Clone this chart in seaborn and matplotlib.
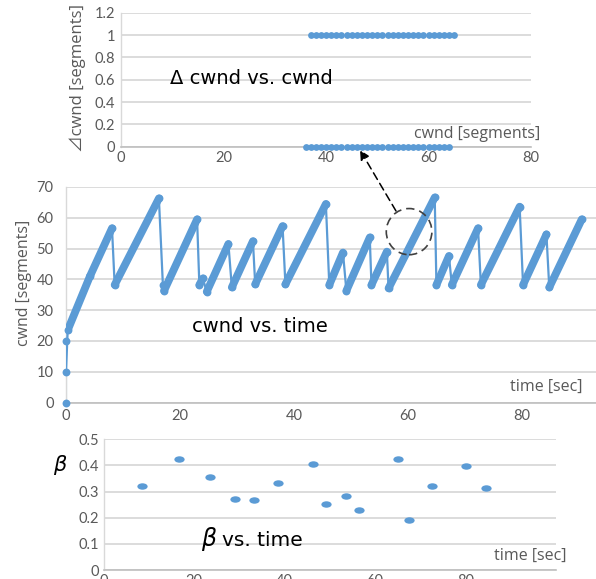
import numpy as np
import pandas as pd
import matplotlib
matplotlib.use("Agg")
import matplotlib.pyplot as plt
import seaborn as sns
from matplotlib.patches import Ellipse, FancyArrowPatch
from matplotlib.path import Path

# --- data -----------------------------------------------------------------
# window sizes (segments) at which an ACK grew cwnd by one segment / left it unchanged
cwnd_inc = [37, 38, 39, 40, 41, 42, 43, 44, 45, 46, 47, 48, 49, 50, 51,
            52, 53, 54, 55, 56, 57, 58, 59, 60, 61, 62, 63, 64, 65]
cwnd_hold = [36, 37, 38, 39, 40, 41, 42, 43, 44, 45, 46, 47, 48, 49, 50,
             51, 52, 53, 54, 55, 56, 57, 58, 59, 60, 61, 62, 63, 64]

# cwnd trajectory: turning points of the sawtooth
t_vertices = [0.0, 0.0, 0.0, 0.3, 4.2, 8.07, 8.54, 16.3, 17.0, 17.2, 23.0,
              23.4, 24.0, 24.7, 28.5, 29.1, 32.8, 33.2, 38.0, 38.5, 45.6,
              46.2, 48.6, 49.2, 53.3, 53.6, 56.3, 56.6, 64.7, 65.0, 67.2,
              67.7, 72.3, 72.8, 79.6, 80.2, 84.3, 84.8, 90.5]
cwnd_vertices = [0, 10, 20, 23.5, 41.0, 56.6, 38.2, 66.3, 38.2, 36.3, 59.5,
                 38.2, 40.3, 36.0, 51.5, 37.4, 52.4, 38.4, 57.3, 38.4, 64.5,
                 38.2, 48.7, 36.3, 53.6, 38.2, 49.0, 37.1, 66.6, 38.2, 47.6,
                 38.2, 56.6, 38.2, 63.6, 38.2, 54.6, 37.4, 59.5]

# multiplicative decrease factor measured at each loss event
beta_time = [8.4, 16.7, 23.5, 29.1, 33.2, 38.5, 46.2, 49.1, 53.6, 56.4,
             65.0, 67.6, 72.6, 80.1, 84.6]
beta_value = [0.321, 0.425, 0.356, 0.273, 0.268, 0.333, 0.406, 0.251,
              0.283, 0.229, 0.425, 0.191, 0.322, 0.399, 0.315]

# --- style ------------------------------------------------------------------
sns.set_theme(style="white")
plt.rcParams["font.family"] = ["Lato", "DejaVu Sans"]
BLUE = "#5b9bd5"
GRID = "#d9d9d9"
AXIS = "#bfbfbf"
TICK = "#595959"
TITLE_FONT = ["DejaVu Sans"]
LABEL_FONT = ["Open Sans", "Noto Sans CJK JP", "DejaVu Sans"]

W, H = 596, 579
fig = plt.figure(figsize=(W / 100, H / 100), dpi=100)


def box(left, top, right, bottom):
    return [left / W, 1 - bottom / H, (right - left) / W, (bottom - top) / H]


def fx(px):
    return px / W


def fy(py):
    return 1 - py / H


def style(ax, ypad, xpad):
    for s in ("top", "right"):
        ax.spines[s].set_visible(False)
    ax.spines["left"].set_color(GRID)
    ax.spines["left"].set_linewidth(1.0)
    ax.spines["bottom"].set_color(AXIS)
    ax.spines["bottom"].set_linewidth(1.2)
    ax.yaxis.grid(True, color=GRID, linewidth=1.3)
    ax.xaxis.grid(False)
    ax.set_axisbelow(True)
    ax.tick_params(axis="y", length=0, colors=TICK, labelsize=10.5, pad=ypad)
    ax.tick_params(axis="x", length=0, colors=TICK, labelsize=10.5, pad=xpad)
    ax.set_xlabel("")
    ax.set_ylabel("")


ax_top = fig.add_axes(box(121, 12.7, 531, 146.7))
ax_mid = fig.add_axes(box(66, 187, 596, 402.5))
ax_bot = fig.add_axes(box(103.5, 439.3, 556, 570))

# --- Δcwnd vs. cwnd -----------------------------------------------------------
top_df = pd.DataFrame({
    "cwnd": cwnd_inc + cwnd_hold,
    "delta": [1] * len(cwnd_inc) + [0] * len(cwnd_hold),
})
sns.scatterplot(data=top_df, x="cwnd", y="delta", color=BLUE, s=24,
                linewidth=0, ax=ax_top, clip_on=False, zorder=3)
ax_top.set_xlim(0, 80)
ax_top.set_ylim(0, 1.2)
ax_top.set_xticks([0, 20, 40, 60, 80])
ax_top.set_yticks([0, 0.2, 0.4, 0.6, 0.8, 1.0, 1.2])
ax_top.set_yticklabels(["0", "0.2", "0.4", "0.6", "0.8", "1", "1.2"])
style(ax_top, ypad=4.5, xpad=3)

# --- cwnd vs. time ------------------------------------------------------------
mid_df = pd.DataFrame({"t": t_vertices, "cwnd": cwnd_vertices})
seg_rows = []
seg_id = 0
for i in range(len(t_vertices) - 1):
    if t_vertices[i] > 0 and cwnd_vertices[i + 1] > cwnd_vertices[i]:
        seg_rows.append((t_vertices[i], cwnd_vertices[i], seg_id))
        seg_rows.append((t_vertices[i + 1], cwnd_vertices[i + 1], seg_id))
        seg_id += 1
grow_df = pd.DataFrame(seg_rows, columns=["t", "cwnd", "seg"])

sns.lineplot(data=mid_df, x="t", y="cwnd", sort=False, color=BLUE,
             linewidth=1.6, ax=ax_mid, zorder=3)
sns.lineplot(data=grow_df, x="t", y="cwnd", units="seg", estimator=None,
             sort=False, color=BLUE, linewidth=5.6, ax=ax_mid, zorder=3,
             solid_capstyle="round")
sns.scatterplot(data=mid_df, x="t", y="cwnd", color=BLUE, s=32, linewidth=0,
                ax=ax_mid, clip_on=False, zorder=4)
ax_mid.set_xlim(0, 93)
ax_mid.set_ylim(0, 70)
ax_mid.set_xticks([0, 20, 40, 60, 80])
ax_mid.set_yticks(range(0, 71, 10))
style(ax_mid, ypad=9, xpad=4.5)

ax_mid.add_patch(Ellipse((60.2, 55.5), 8.0, 15.0, fill=False,
                         linestyle=(0, (5, 3)), edgecolor="#404040",
                         linewidth=1.2, zorder=5))

# --- β vs. time ---------------------------------------------------------------
ellipse = Path(Path.unit_circle().vertices * np.array([1.6, 1.0]),
               Path.unit_circle().codes)
bot_df = pd.DataFrame({"t": beta_time, "beta": beta_value})
sns.scatterplot(data=bot_df, x="t", y="beta", color=BLUE, s=55,
                marker=ellipse, linewidth=0, ax=ax_bot, zorder=3)
ax_bot.set_xlim(0, 100)
ax_bot.set_ylim(0, 0.5)
ax_bot.set_xticks([0, 20, 40, 60, 80])
ax_bot.set_yticks([0, 0.1, 0.2, 0.3, 0.4, 0.5])
ax_bot.set_yticklabels(["0", "0.1", "0.2", "0.3", "0.4", "0.5"])
style(ax_bot, ypad=3, xpad=3)

# --- labels and titles --------------------------------------------------------
fig.text(fx(78), fy(78), "⊿cwnd [segments]", rotation=90, ha="center",
         va="center", color=TICK, fontsize=12, family=LABEL_FONT)
fig.text(fx(540), fy(134), "cwnd [segments]", ha="right", va="center",
         color=TICK, fontsize=11.5, family=LABEL_FONT)
fig.text(fx(170), fy(78), "Δ cwnd vs. cwnd", ha="left", va="center",
         color="black", fontsize=14, family=TITLE_FONT)

fig.text(fx(24), fy(283), "cwnd [segments]", rotation=90, ha="center",
         va="center", color=TICK, fontsize=11.5, family=LABEL_FONT)
fig.text(fx(583), fy(387), "time [sec]", ha="right", va="center",
         color=TICK, fontsize=11.5, family=LABEL_FONT)
fig.text(fx(192), fy(327), "cwnd vs. time", ha="left", va="center",
         color="black", fontsize=14, family=TITLE_FONT)

fig.text(fx(60), fy(465), "β", ha="center", va="center", color="black",
         fontsize=15, style="italic", family=["DejaVu Sans"])
fig.text(fx(566), fy(556), "time [sec]", ha="right", va="center",
         color=TICK, fontsize=11.5, family=LABEL_FONT)
fig.text(fx(209), fy(539), "β", ha="center", va="center", color="black",
         fontsize=17, style="italic", family=["DejaVu Sans"])
fig.text(fx(222), fy(540), "vs. time", ha="left", va="center",
         color="black", fontsize=14.5, family=TITLE_FONT)

# dashed pointer from the highlighted growth phase up to the Δcwnd panel
fig.add_artist(FancyArrowPatch((fx(396), fy(211)), (fx(360), fy(150)),
                               transform=fig.transFigure,
                               arrowstyle="-|>", mutation_scale=14,
                               linestyle=(0, (5, 3)), linewidth=1.1,
                               color="black", shrinkA=0, shrinkB=0))

fig.savefig("out.png", dpi=100)
